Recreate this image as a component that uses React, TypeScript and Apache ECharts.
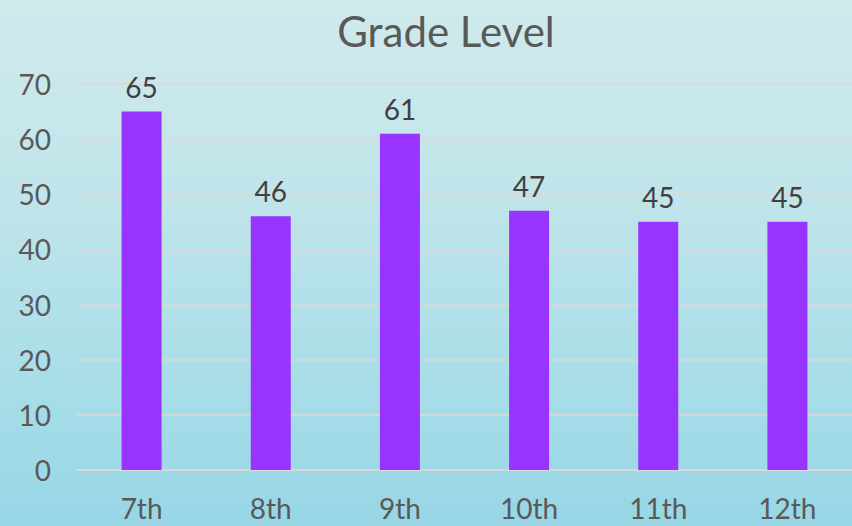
import React, { useEffect, useRef } from "react";
import * as echarts from "echarts";

const categories = ["7th", "8th", "9th", "10th", "11th", "12th"];
const values = [65, 46, 61, 47, 45, 45];
const titleText = "Grade Level";

export default function App() {
  const ref = useRef<HTMLDivElement>(null);
  useEffect(() => {
    document.body.style.margin = "0";
    const chart = echarts.init(ref.current!, null, { renderer: "svg" });
    const font = "Lato, 'Open Sans', sans-serif";
    chart.setOption({
      animation: false,
      backgroundColor: "transparent",
      title: {
        text: titleText,
        left: 441,
        textAlign: "center",
        top: 5,
        textStyle: { fontFamily: font, fontSize: 42, fontWeight: "normal", color: "#595959" },
      },
      grid: { left: 77, right: 0, top: 84, bottom: 56, containLabel: false },
      xAxis: {
        type: "category",
        data: categories,
        axisTick: { show: false },
        axisLine: { show: true, lineStyle: { color: "#d9d9d9", width: 2 } },
        axisLabel: { fontFamily: font, fontSize: 28, color: "#595959", margin: 24 },
      },
      yAxis: {
        type: "value",
        min: 0,
        max: 70,
        interval: 10,
        axisLine: { show: false },
        axisTick: { show: false },
        axisLabel: { fontFamily: font, fontSize: 28, color: "#595959", margin: 26 },
        splitLine: { lineStyle: { color: "#e0d6d6", width: 1.5 } },
      },
      series: [
        {
          type: "bar",
          data: values,
          barWidth: 40,
          itemStyle: { color: "#9933ff" },
          label: {
            show: true,
            position: "top",
            distance: 11,
            fontFamily: font,
            fontSize: 28,
            color: "#404040",
          },
        },
      ],
    });
    return () => chart.dispose();
  }, []);
  return (
    <div
      style={{
        position: "absolute",
        left: 0,
        top: 0,
        width: 852,
        height: 526,
        background: "linear-gradient(180deg, #d0eaec 0%, #bfe4ea 40%, #a6dde8 75%, #98d6e6 100%)",
      }}
    >
      <div ref={ref} style={{ width: 852, height: 526 }} />
    </div>
  );
}
